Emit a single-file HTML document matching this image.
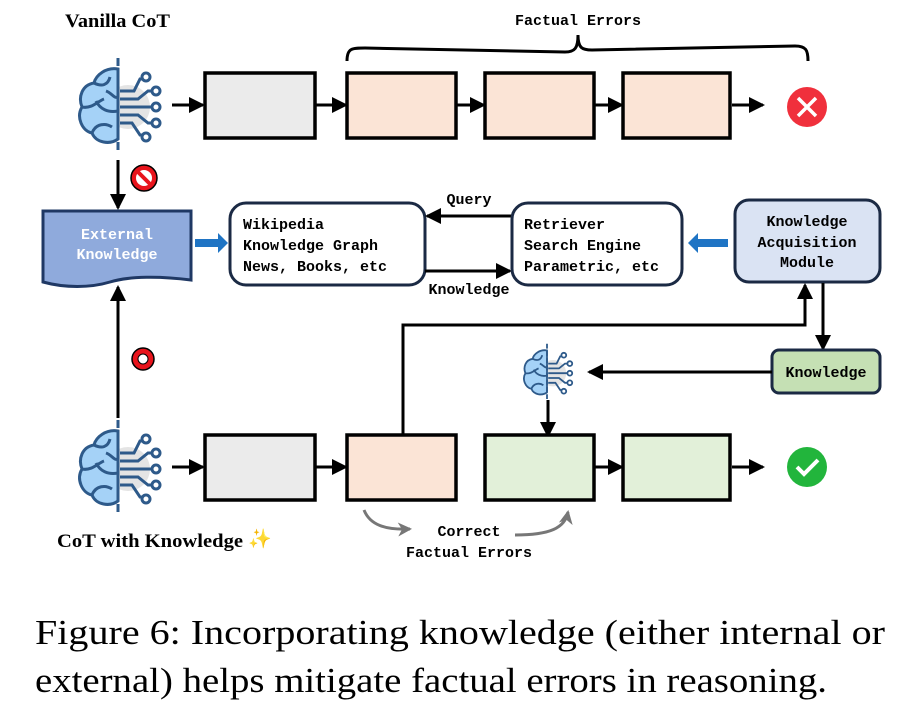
<!DOCTYPE html>
<html><head><meta charset="utf-8"><style>
html,body{margin:0;padding:0;background:#fff;width:910px;height:710px;overflow:hidden}
svg{display:block}
.m{font-family:"Liberation Mono","DejaVu Sans Mono",monospace;font-weight:bold;font-size:15px}
.s{font-family:"Liberation Serif",serif;font-weight:bold;font-size:19px}
.cap{font-family:"Liberation Serif",serif;font-size:35px}
</style></head><body>
<svg width="910" height="710" viewBox="0 0 910 710">
<defs>
<marker id="ab" markerWidth="16" markerHeight="16" refX="14" refY="8" orient="auto" markerUnits="userSpaceOnUse"><path d="M0,0 L16,8 L0,16 z" fill="#000"/></marker>
<marker id="ag" markerWidth="14" markerHeight="14" refX="12" refY="7" orient="auto" markerUnits="userSpaceOnUse"><path d="M0,0 L14,7 L0,14 L4,7 z" fill="#777"/></marker>
<g id="brain">
<circle cx="10" cy="2" r="22" fill="#e4e4e4"/>
<path d="M0,-36 C-12,-38 -22,-30 -24,-22 C-36,-20 -40,-8 -36,2 C-42,12 -36,26 -26,28 C-22,38 -8,40 0,34 Z" fill="#a5d2f7" stroke="#2e5a8a" stroke-width="3"/>
<path d="M-24,-22 C-16,-18 -10,-20 -8,-28 M-36,2 C-26,4 -20,-4 -14,-6 M-26,28 C-22,18 -12,18 -6,22 M-22,-4 C-18,4 -10,8 0,6 M-12,-14 C-6,-12 -4,-6 0,-8" fill="none" stroke="#2e5a8a" stroke-width="3"/>
<line x1="0" y1="-47" x2="0" y2="45" stroke="#2e5a8a" stroke-width="3" stroke-dasharray="8,4"/>
<g fill="none" stroke="#2e5a8a" stroke-width="3">
<path d="M2,-14 L16,-14 L22,-26 L24,-26"/><circle cx="28" cy="-28" r="4"/>
<path d="M2,-6 L20,-6 L30,-14 L34,-14"/><circle cx="38" cy="-14" r="4"/>
<path d="M2,2 L34,2"/><circle cx="38" cy="2" r="4"/>
<path d="M2,10 L20,10 L30,18 L34,18"/><circle cx="38" cy="18" r="4"/>
<path d="M2,18 L14,18 L22,30 L24,30"/><circle cx="28" cy="32" r="4"/>
</g>
</g>
</defs>

<text x="65" y="27" class="s" textLength="105" lengthAdjust="spacingAndGlyphs">Vanilla CoT</text>
<text x="578" y="25" class="m" text-anchor="middle">Factual Errors</text>
<path d="M347,61 C347,48 352,48 365,48 L565,52 C575,52 578,48 578,35 C578,48 582,50 592,50 L795,46 C806,46 808,50 808,61" fill="none" stroke="#000" stroke-width="3"/>

<use href="#brain" x="118" y="105"/>
<line x1="172" y1="105" x2="203" y2="105" stroke="#000" stroke-width="3" marker-end="url(#ab)"/>
<g stroke="#000" stroke-width="3.5">
<rect x="205" y="73" width="110" height="65" fill="#ebebeb"/>
<rect x="347" y="73" width="109" height="65" fill="#fbe4d6"/>
<rect x="485" y="73" width="109" height="65" fill="#fbe4d6"/>
<rect x="623" y="73" width="107" height="65" fill="#fbe4d6"/>
</g>
<g stroke="#000" stroke-width="3">
<line x1="315" y1="105" x2="346" y2="105" marker-end="url(#ab)"/>
<line x1="456" y1="105" x2="484" y2="105" marker-end="url(#ab)"/>
<line x1="594" y1="105" x2="622" y2="105" marker-end="url(#ab)"/>
<line x1="732" y1="105" x2="763" y2="105" marker-end="url(#ab)"/>
</g>
<circle cx="807" cy="107" r="20" fill="#f0303c"/>
<path d="M798,98 L816,116 M816,98 L798,116" stroke="#fff" stroke-width="3.5"/>

<line x1="118" y1="160" x2="118" y2="208" stroke="#000" stroke-width="3" marker-end="url(#ab)"/>
<circle cx="144" cy="178" r="13" fill="#e8141c" stroke="#000" stroke-width="1.5"/>
<circle cx="144" cy="178" r="8" fill="#fff"/>
<line x1="138" y1="172" x2="150" y2="184" stroke="#e8141c" stroke-width="4"/>

<path d="M43,211 L191,211 L191,280 C160,276 130,276 110,282 C90,288 65,288 43,282 Z" fill="#8faadc" stroke="#1f3864" stroke-width="3"/>
<text x="117" y="239" class="m" fill="#fff" text-anchor="middle">External</text>
<text x="117" y="259" class="m" fill="#fff" text-anchor="middle">Knowledge</text>
<path d="M195,239 L218,239 L218,233 L228,243 L218,253 L218,247 L195,247 Z" fill="#1f74c4"/>

<rect x="230" y="203" width="195" height="82" rx="16" fill="#fff" stroke="#1b2a44" stroke-width="3"/>
<text x="243" y="229" class="m">Wikipedia</text>
<text x="243" y="250" class="m">Knowledge Graph</text>
<text x="243" y="271" class="m">News, Books, etc</text>
<line x1="512" y1="216" x2="427" y2="216" stroke="#000" stroke-width="3" marker-end="url(#ab)"/>
<text x="469" y="204" class="m" text-anchor="middle">Query</text>
<line x1="425" y1="271" x2="510" y2="271" stroke="#000" stroke-width="3" marker-end="url(#ab)"/>
<text x="469" y="294" class="m" text-anchor="middle">Knowledge</text>
<rect x="512" y="203" width="170" height="82" rx="16" fill="#fff" stroke="#1b2a44" stroke-width="3"/>
<text x="524" y="229" class="m">Retriever</text>
<text x="524" y="250" class="m">Search Engine</text>
<text x="524" y="271" class="m">Parametric, etc</text>
<path d="M728,239 L698,239 L698,233 L688,243 L698,253 L698,247 L728,247 Z" fill="#1f74c4"/>
<rect x="735" y="200" width="145" height="82" rx="14" fill="#dae3f3" stroke="#1b2a44" stroke-width="3"/>
<text x="807" y="226" class="m" text-anchor="middle">Knowledge</text>
<text x="807" y="247" class="m" text-anchor="middle">Acquisition</text>
<text x="807" y="267" class="m" text-anchor="middle">Module</text>

<path d="M403,435 L403,325 L805,325 L805,285" fill="none" stroke="#000" stroke-width="3" marker-end="url(#ab)"/>
<line x1="823" y1="283" x2="823" y2="349" stroke="#000" stroke-width="3" marker-end="url(#ab)"/>
<rect x="772" y="350" width="108" height="43" rx="7" fill="#c5e0b4" stroke="#1b2a44" stroke-width="3"/>
<text x="826" y="377" class="m" text-anchor="middle">Knowledge</text>
<line x1="772" y1="372" x2="589" y2="372" stroke="#000" stroke-width="3" marker-end="url(#ab)"/>
<use href="#brain" transform="translate(547,372) scale(0.6)"/>
<line x1="548" y1="400" x2="548" y2="436" stroke="#000" stroke-width="3" marker-end="url(#ab)"/>

<line x1="118" y1="418" x2="118" y2="287" stroke="#000" stroke-width="3" marker-end="url(#ab)"/>
<circle cx="143" cy="359" r="11" fill="#e8141c" stroke="#000" stroke-width="1.5"/>
<circle cx="143" cy="359" r="5" fill="#fff" stroke="#000" stroke-width="1"/>

<use href="#brain" x="118" y="467"/>
<line x1="172" y1="467" x2="203" y2="467" stroke="#000" stroke-width="3" marker-end="url(#ab)"/>
<g stroke="#000" stroke-width="3.5">
<rect x="205" y="435" width="110" height="65" fill="#ebebeb"/>
<rect x="347" y="435" width="109" height="65" fill="#fbe4d6"/>
<rect x="485" y="435" width="109" height="65" fill="#e2f0d9"/>
<rect x="623" y="435" width="107" height="65" fill="#e2f0d9"/>
</g>
<g stroke="#000" stroke-width="3">
<line x1="315" y1="467" x2="346" y2="467" marker-end="url(#ab)"/>
<line x1="594" y1="467" x2="622" y2="467" marker-end="url(#ab)"/>
<line x1="732" y1="467" x2="763" y2="467" marker-end="url(#ab)"/>
</g>
<circle cx="807" cy="467" r="20" fill="#22b53c"/>
<path d="M797,467 L804,474 L818,460" fill="none" stroke="#fff" stroke-width="4"/>

<path d="M364,510 C370,525 385,530 410,529" fill="none" stroke="#777" stroke-width="3" marker-end="url(#ag)"/>
<path d="M515,535 C550,535 565,528 568,512" fill="none" stroke="#777" stroke-width="3" marker-end="url(#ag)"/>
<text x="469" y="536" class="m" text-anchor="middle">Correct</text>
<text x="469" y="557" class="m" text-anchor="middle">Factual Errors</text>
<text x="57" y="547" class="s" textLength="186" lengthAdjust="spacingAndGlyphs">CoT with Knowledge</text>
<text x="248" y="545" font-size="19" fill="#f2c230" font-family="DejaVu Sans,sans-serif">✨</text>

<text x="35" y="644" class="cap" textLength="850" lengthAdjust="spacingAndGlyphs">Figure 6:  Incorporating knowledge (either internal or</text>
<text x="35" y="692" class="cap" textLength="792" lengthAdjust="spacingAndGlyphs">external) helps mitigate factual errors in reasoning.</text>
</svg>
</body></html>
